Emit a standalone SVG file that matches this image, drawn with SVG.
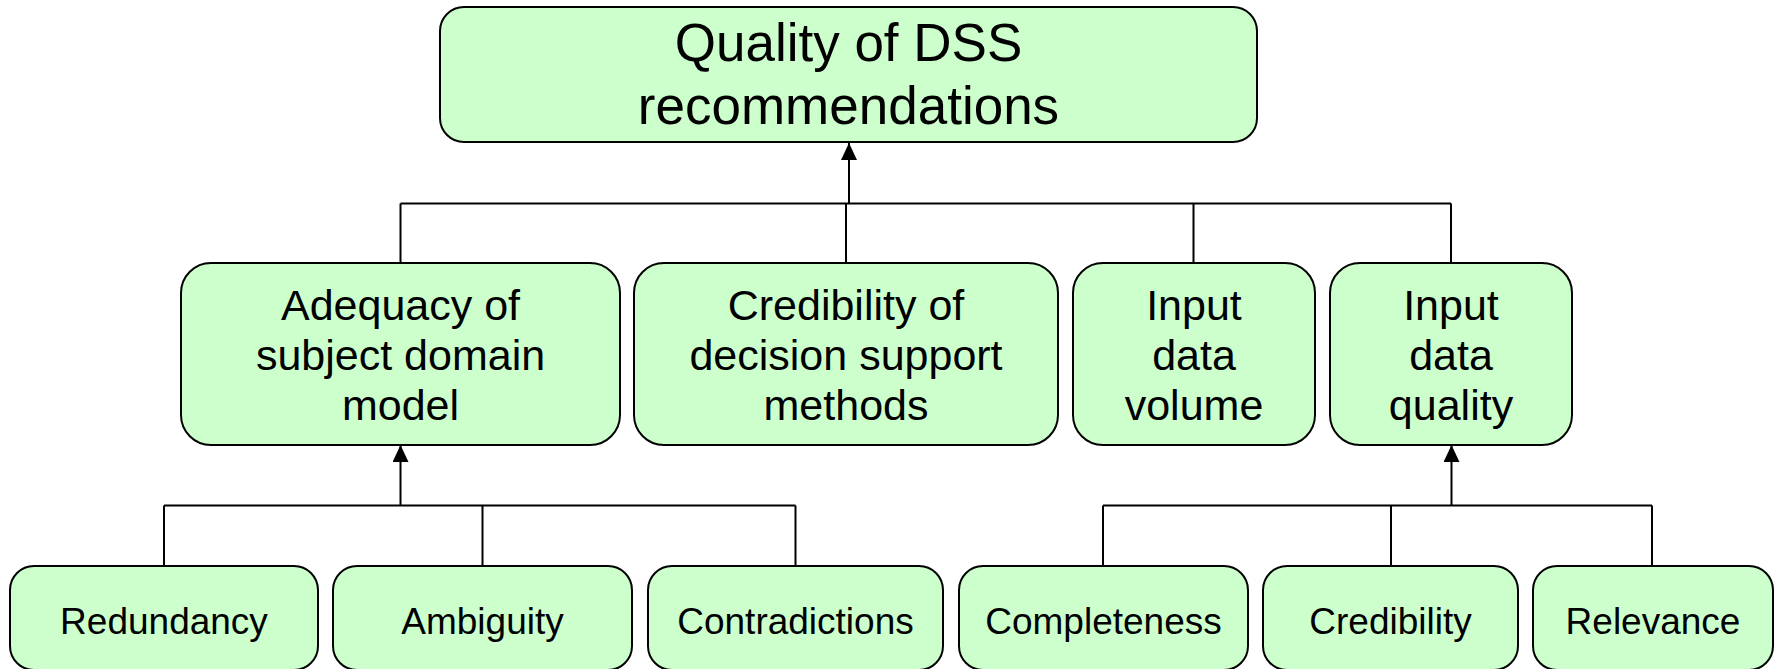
<svg xmlns="http://www.w3.org/2000/svg" width="1779" height="669" viewBox="0 0 1779 669">
<style>
.box{fill:#CCFFCC;stroke:#000;stroke-width:2}
.t{font-family:"Liberation Sans",Arial,sans-serif;fill:#000;text-anchor:middle}
.t1{font-size:53px}
.t2{font-size:43px}
.t3{font-size:37px}
.ln{stroke:#000;stroke-width:2;fill:none}
</style>
<defs>
<marker id="arr" markerUnits="userSpaceOnUse" markerWidth="17" markerHeight="16" refX="17" refY="8" orient="auto">
<path d="M0,0 L17,8 L0,16 z" fill="#000"/>
</marker>
</defs>
<rect width="1779" height="669" fill="#fff"/>
<g id="connectors">
<path class="ln" d="M400.5,203.5 H1451 M400.5,203.5 V263 M846,203.5 V263 M1193.5,203.5 V263 M1451,203.5 V263"/>
<path class="ln" d="M849,203.5 V143" marker-end="url(#arr)"/>
<path class="ln" d="M164,505.5 H795.5 M164,505.5 V566 M482.5,505.5 V566 M795.5,505.5 V566"/>
<path class="ln" d="M400.5,505.5 V445" marker-end="url(#arr)"/>
<path class="ln" d="M1103,505.5 H1652 M1103,505.5 V566 M1391,505.5 V566 M1652,505.5 V566"/>
<path class="ln" d="M1451.5,505.5 V445" marker-end="url(#arr)"/>
</g>
<g id="n-top">
<rect class="box" x="440" y="7" width="817" height="135" rx="24"/>
<text class="t t1" x="848.5" y="61">Quality of DSS</text>
<text class="t t1" x="848.5" y="124">recommendations</text>
</g>
<g id="n-adequacy">
<rect class="box" x="181" y="263" width="439" height="182" rx="30"/>
<text class="t t2" x="400.5" y="320">Adequacy of</text>
<text class="t t2" x="400.5" y="370">subject domain</text>
<text class="t t2" x="400.5" y="420">model</text>
</g>
<g id="n-credmethods">
<rect class="box" x="634" y="263" width="424" height="182" rx="30"/>
<text class="t t2" x="846" y="320">Credibility of</text>
<text class="t t2" x="846" y="370">decision support</text>
<text class="t t2" x="846" y="420">methods</text>
</g>
<g id="n-volume">
<rect class="box" x="1073" y="263" width="242" height="182" rx="30"/>
<text class="t t2" x="1194" y="320">Input</text>
<text class="t t2" x="1194" y="370">data</text>
<text class="t t2" x="1194" y="420">volume</text>
</g>
<g id="n-quality">
<rect class="box" x="1330" y="263" width="242" height="182" rx="30"/>
<text class="t t2" x="1451" y="320">Input</text>
<text class="t t2" x="1451" y="370">data</text>
<text class="t t2" x="1451" y="420">quality</text>
</g>
<g id="n-redundancy">
<rect class="box" x="10" y="566" width="308" height="104" rx="24"/>
<text class="t t3" x="164" y="634">Redundancy</text>
</g>
<g id="n-ambiguity">
<rect class="box" x="333" y="566" width="299" height="104" rx="24"/>
<text class="t t3" x="482.5" y="634">Ambiguity</text>
</g>
<g id="n-contradictions">
<rect class="box" x="648" y="566" width="295" height="104" rx="24"/>
<text class="t t3" x="795.5" y="634">Contradictions</text>
</g>
<g id="n-completeness">
<rect class="box" x="959" y="566" width="289" height="104" rx="24"/>
<text class="t t3" x="1103.5" y="634">Completeness</text>
</g>
<g id="n-credibility">
<rect class="box" x="1263" y="566" width="255" height="104" rx="24"/>
<text class="t t3" x="1390.5" y="634">Credibility</text>
</g>
<g id="n-relevance">
<rect class="box" x="1533" y="566" width="240" height="104" rx="24"/>
<text class="t t3" x="1653" y="634">Relevance</text>
</g>
</svg>
